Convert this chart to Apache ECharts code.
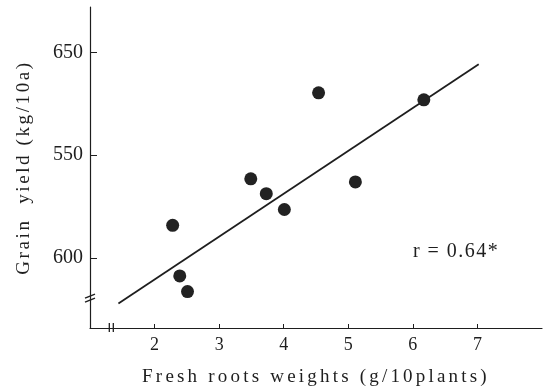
<!DOCTYPE html>
<html>
<head>
<meta charset="utf-8">
<script src="https://cdn.jsdelivr.net/npm/echarts@6/dist/echarts.min.js"></script>
<style>
  html, body { margin: 0; padding: 0; background: #fff; }
  #chart { width: 547px; height: 392px; }
</style>
</head>
<body>
<div id="chart"></div>
<script>
// tick values / printed labels (the printed y labels are as in the source figure)
const xTicks = [2, 3, 4, 5, 6, 7];
const yTickValues = [600, 650, 700];
const yTickLabels = ['600', '550', '650'];

// fresh roots weight (g/10plants) vs grain yield (kg/10a)
const rootWeight = [2.28, 2.39, 2.51, 3.49, 3.73, 4.01, 4.54, 5.11, 6.17];
const grainYield = [615.9, 591.3, 583.7, 638.5, 631.3, 623.6, 680.3, 637.0, 676.9];

// regression line end points
const fitX = [1.44, 7.02];
const fitY = [577.9, 694.2];

const xTitle = 'Fresh roots weights (g/10plants)';
const yTitle = 'Grain  yield (kg/10a)';
const rText = 'r = 0.64*';

const ink = '#1e1e1e';
const serif = 'Liberation Serif';

// the printed figure uses wide letter spacing for its titles; zrender has no
// letterSpacing option, so set it on the canvas for those strings only
const spacing = { [xTitle]: '3.2px', [yTitle]: '2.6px', [rText]: '1.5px' };
const origFillText = CanvasRenderingContext2D.prototype.fillText;
CanvasRenderingContext2D.prototype.fillText = function (t, x, y, w) {
    if (spacing[t] && 'letterSpacing' in this) {
        this.save();
        this.letterSpacing = spacing[t];
        origFillText.call(this, t, x, y, w);
        this.restore();
    } else {
        origFillText.call(this, t, x, y, w);
    }
};

const chart = echarts.init(document.getElementById('chart'));

const option = {
    animation: false,
    grid: { left: 90, right: 5, top: 7, bottom: 61 },
    xAxis: {
        type: 'value',
        min: 1,
        max: 8,
        interval: 1,
        splitLine: { show: false },
        axisLine: { lineStyle: { color: ink, width: 1.2 } },
        axisTick: { inside: true, length: 4, customValues: xTicks, lineStyle: { color: ink } },
        axisLabel: { customValues: xTicks, color: ink, fontFamily: serif, fontSize: 18, margin: 8 },
        name: xTitle,
        nameLocation: 'middle',
        nameGap: 40,
        nameTextStyle: { color: ink, fontFamily: serif, fontSize: 19 }
    },
    yAxis: {
        type: 'value',
        min: 566,
        max: 722,
        splitLine: { show: false },
        axisLine: { lineStyle: { color: ink, width: 1.2 } },
        axisTick: { inside: true, length: 7, customValues: yTickValues, lineStyle: { color: ink } },
        axisLabel: {
            customValues: yTickValues,
            color: ink, fontFamily: serif, fontSize: 20, margin: 7,
            formatter: v => yTickLabels[yTickValues.indexOf(v)]
        },
        name: yTitle,
        nameLocation: 'middle',
        nameRotate: 90,
        nameGap: 56,
        nameTextStyle: { color: ink, fontFamily: serif, fontSize: 19 }
    },
    series: [
        {
            type: 'line',
            data: fitX.map((x, i) => [x, fitY[i]]),
            symbol: 'none',
            lineStyle: { color: ink, width: 1.8 },
            z: 2
        },
        {
            type: 'scatter',
            data: rootWeight.map((x, i) => [x, grainYield[i]]),
            symbolSize: 13,
            itemStyle: { color: '#222', opacity: 1 },
            z: 3
        }
    ]
};
chart.setOption(option);

// axis break marks and the r annotation, placed through the chart's scales
const yb = chart.convertToPixel({ gridIndex: 0 }, [1, 581]);
const xb = chart.convertToPixel({ gridIndex: 0 }, [1.33, 566]);
const rp = chart.convertToPixel({ gridIndex: 0 }, [6.67, 603]);
const brk = { stroke: ink, lineWidth: 1.3 };
chart.setOption({
    graphic: [
        { type: 'line', shape: { x1: yb[0] - 5, y1: yb[1] + 1, x2: yb[0] + 5, y2: yb[1] - 3 }, style: brk },
        { type: 'line', shape: { x1: yb[0] - 5, y1: yb[1] + 5, x2: yb[0] + 5, y2: yb[1] + 1 }, style: brk },
        { type: 'line', shape: { x1: xb[0] - 2, y1: xb[1] - 5, x2: xb[0] - 2, y2: xb[1] + 4 }, style: brk },
        { type: 'line', shape: { x1: xb[0] + 2, y1: xb[1] - 5, x2: xb[0] + 2, y2: xb[1] + 4 }, style: brk },
        {
            type: 'text',
            x: rp[0], y: rp[1],
            style: {
                text: rText,
                fill: ink,
                font: '20px "Liberation Serif"',
                align: 'center',
                verticalAlign: 'middle'
            }
        }
    ]
});
</script>
</body>
</html>
